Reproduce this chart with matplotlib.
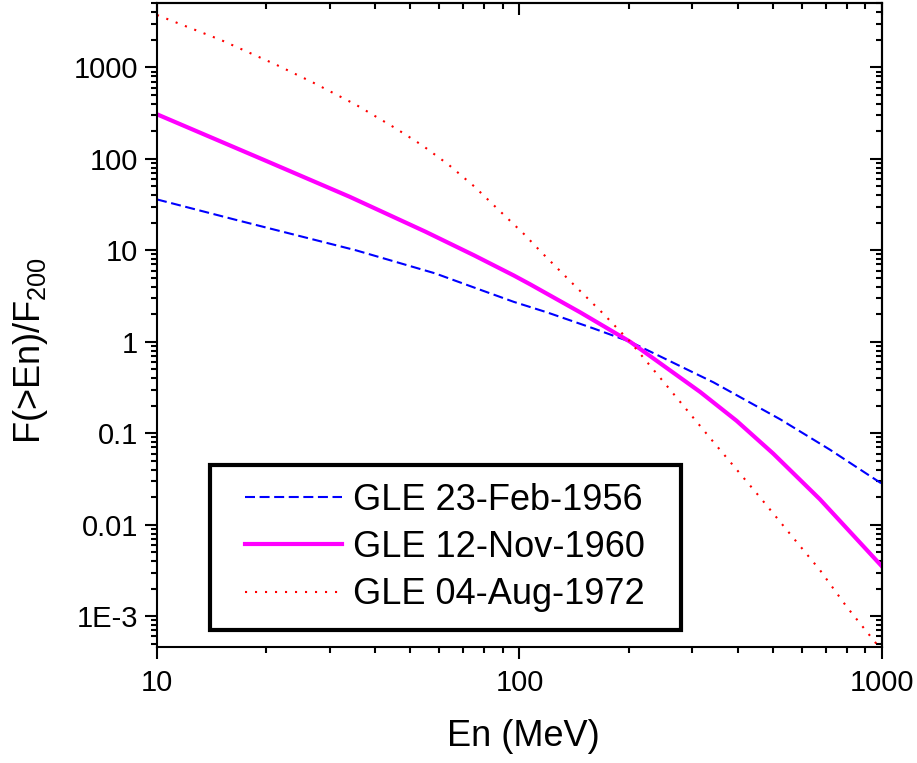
import matplotlib
matplotlib.use("Agg")
import matplotlib.pyplot as plt
from matplotlib.legend_handler import HandlerLine2D
from matplotlib.ticker import FixedLocator, FixedFormatter, LogLocator, NullFormatter

plt.rcParams['font.family'] = ['Liberation Sans', 'DejaVu Sans']
plt.rcParams['mathtext.default'] = 'regular'

# values (energy in MeV, ratio F(>En)/F200)
en_1956 = [10, 16.6, 35.4, 58.5, 78, 96.5, 119, 160, 202, 343, 524, 719, 1000]
f_1956 = [36, 21.4, 10, 5.6, 3.7, 2.73, 2.1, 1.4, 1.0, 0.36, 0.142, 0.066, 0.028]

en_1960 = [10, 20, 34, 55, 75, 96.5, 107, 147, 202, 315, 397, 501, 674, 1000]
f_1960 = [307, 95, 38.5, 16, 8.8, 5.3, 4.25, 2.1, 1.0, 0.283, 0.137, 0.060, 0.019, 0.0035]

en_1972 = [10, 15, 21.4, 27, 35.4, 45.5, 54, 63.8, 75, 85, 103, 115, 143, 170, 202, 255, 343, 460,
           574, 674, 800, 1000]
f_1972 = [3740, 1995, 1062, 680, 390, 216, 140, 86, 50, 31, 15, 9.5, 4.0, 2.04, 1.0, 0.33, 0.080,
          0.0201, 0.0069, 0.0032, 0.00126, 0.00042]

labels = ['GLE 23-Feb-1956', 'GLE 12-Nov-1960', 'GLE 04-Aug-1972']
ytick_vals = [1e-3, 0.01, 0.1, 1, 10, 100, 1000]
ytick_text = ['1E-3', '0.01', '0.1', '1', '10', '100', '1000']
xtick_vals = [10, 100, 1000]
xtick_text = ['10', '100', '1000']

fig = plt.figure(figsize=(9.17, 7.63), dpi=100)
ax = fig.add_axes([0.1712, 0.152, 0.7906, 0.844])

ax.plot(en_1956, f_1956, color='#0000FF', lw=1.5, dashes=(4.8, 2.2), label=labels[0])
ax.plot(en_1960, f_1960, color='#FF00FF', lw=3, label=labels[1])
ax.plot(en_1972, f_1972, color='#FF0000', lw=1.5, dashes=(1, 3.8), label=labels[2])

ax.set_xscale('log')
ax.set_yscale('log')
ax.set_xlim(10, 1000)
ax.set_ylim(4.6e-4, 5050)

ax.xaxis.set_major_locator(FixedLocator(xtick_vals))
ax.xaxis.set_major_formatter(FixedFormatter(xtick_text))
ax.yaxis.set_major_locator(FixedLocator(ytick_vals))
ax.yaxis.set_major_formatter(FixedFormatter(ytick_text))
for axis in (ax.xaxis, ax.yaxis):
    axis.set_minor_locator(LogLocator(base=10, subs=range(2, 10), numticks=20))
    axis.set_minor_formatter(NullFormatter())

ax.tick_params(which='major', direction='out', length=8.5, width=1.5, labelsize=21, pad=5)
ax.tick_params(which='minor', direction='out', length=4.2, width=1.5)
ax.tick_params(axis='x', which='major', pad=7)
for s in ax.spines.values():
    s.set_linewidth(1.5)

# top and right axes with inward ticks, no labels
secx = ax.secondary_xaxis('top')
secy = ax.secondary_yaxis('right')
for sec, axis in ((secx, secx.xaxis), (secy, secy.yaxis)):
    axis.set_major_locator(FixedLocator(xtick_vals if sec is secx else ytick_vals))
    axis.set_minor_locator(LogLocator(base=10, subs=range(2, 10), numticks=20))
    axis.set_major_formatter(NullFormatter())
    axis.set_minor_formatter(NullFormatter())
    sec.tick_params(which='major', direction='in', length=8.5, width=1.5)
    sec.tick_params(which='minor', direction='in', length=4.2, width=1.5)
    for s in sec.spines.values():
        s.set_linewidth(1.5)

ax.set_xlabel('En (MeV)', fontsize=26)
ax.set_ylabel('F(>En)/F$_{200}$', fontsize=26)
ax.xaxis.set_label_coords(0.506, -0.112)
ax.yaxis.set_label_coords(-0.148, 0.46)

leg = ax.legend(loc='lower left', bbox_to_anchor=(0.073, 0.026, 0.65, 0.25), mode='expand',
                fontsize=26, frameon=True, fancybox=False, edgecolor='black', framealpha=1,
                handlelength=3.17, handletextpad=0.3, borderpad=0.5, labelspacing=0.34,
                borderaxespad=0, handler_map={matplotlib.lines.Line2D: HandlerLine2D(xpad=0.47)})
leg.get_frame().set_linewidth(3)

plt.savefig('out.png', dpi=100)
